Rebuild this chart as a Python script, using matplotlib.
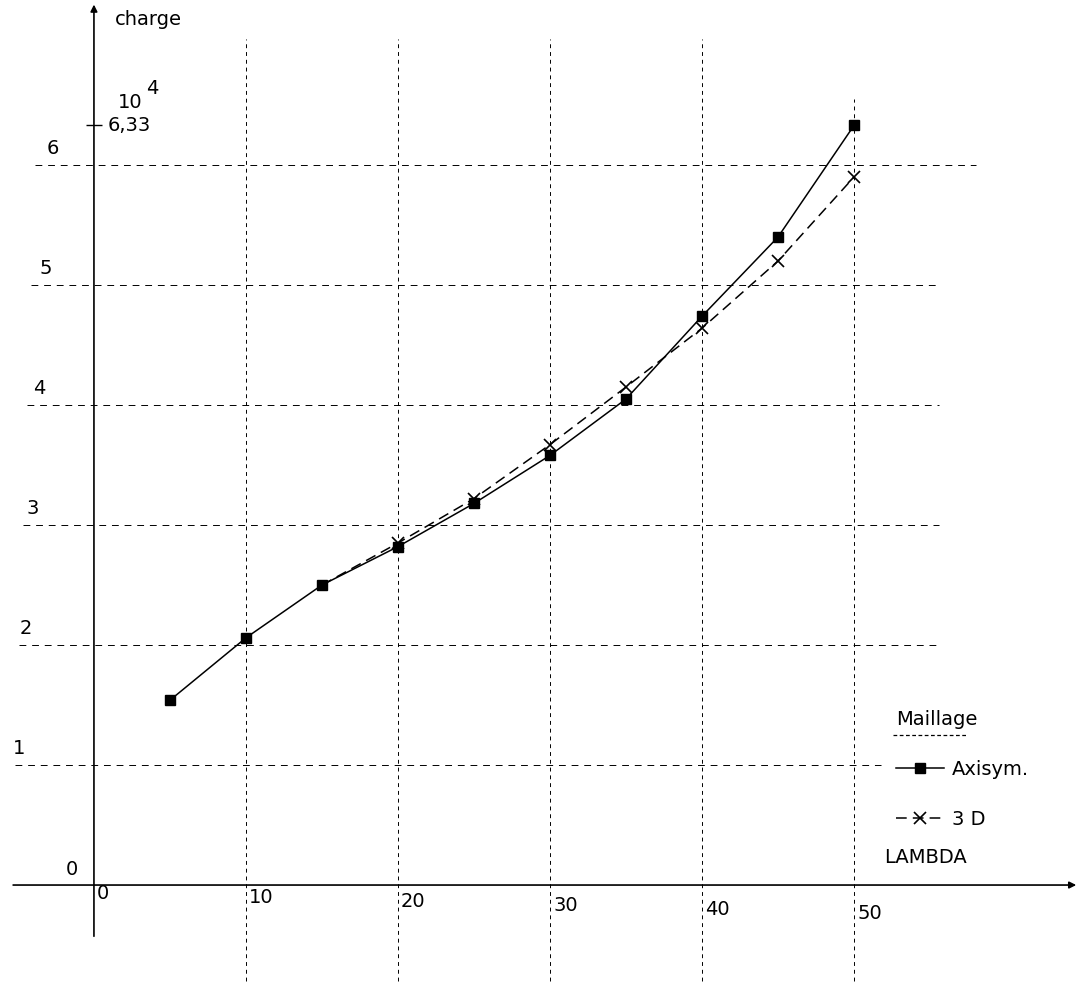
import numpy as np
import matplotlib.pyplot as plt

### DATA (charge in 10^4) ---------------------------------------------------
lam_axi = [5, 10, 15, 20, 25, 30, 35, 40, 45, 50]
charge_axi = [1.54, 2.06, 2.50, 2.82, 3.18, 3.58, 4.05, 4.74, 5.40, 6.33]
lam_3d = [15, 20, 25, 30, 35, 40, 45, 50]
charge_3d = [2.50, 2.85, 3.22, 3.67, 4.15, 4.64, 5.20, 5.90]
x_ticks = [0, 10, 20, 30, 40, 50]
x_labels = ['0', '10', '20', '30', '40', '50']
y_ticks = [1, 2, 3, 4, 5, 6]
y_labels = ['1', '2', '3', '4', '5', '6']
mark_val = 6.33
mark_label = '6,33'
series_names = ['Axisym.', '3 D']
legend_title = 'Maillage'

plt.rcParams['font.family'] = ['DejaVu Sans']
FS = 14

### FIGURE ------------------------
fig = plt.figure(figsize=(10.79, 9.82), dpi=100)
ax = fig.add_axes([0, 0, 1, 1])
ax.set_xlim(-6.18, 64.8)
ax.set_ylim(-0.808, 7.375)
ax.axis('off')

# grid (dashed, hand drawn look)
for v in x_ticks[1:]:
    top = 6.55 if v == 50 else 7.05
    ax.vlines(v, -0.8, top, colors='k', linestyles=(0, (4, 4)), lw=0.7)
for v in y_ticks:
    right = 58 if v == 6 else (51.8 if v == 1 else 55.6)
    left = -3.9 - 0.26 * (6 - v)
    ax.hlines(v, left, right, colors='k', linestyles=(0, (7, 6)), lw=0.7)

# axes with arrows
ax.annotate('', xy=(0, 7.36), xytext=(0, -0.45),
            arrowprops=dict(arrowstyle='-|>', lw=1.2, color='k', mutation_scale=10))
ax.annotate('', xy=(64.8, 0), xytext=(-5.5, 0),
            arrowprops=dict(arrowstyle='-|>', lw=1.2, color='k', mutation_scale=10))

# tick labels
for v, lab in zip(y_ticks, y_labels):
    ax.text(-2.7 - 0.45 * (6 - v), v + 0.14, lab, fontsize=FS, ha='center', va='center')
ax.text(-1.45, 0.13, '0', fontsize=FS, ha='center', va='center')
for v, lab in zip(x_ticks, x_labels):
    ax.text(v + 0.2, -0.07 - 0.0034 * v, lab, fontsize=FS, ha='left', va='center')

# extra mark at 6.33 and the 10^4 factor
ax.hlines(mark_val, -0.5, 0.5, colors='k', lw=1.0)
ax.text(0.9, mark_val, mark_label, fontsize=FS, ha='left', va='center')
ax.text(1.6, mark_val + 0.19, '10', fontsize=FS, ha='left', va='center')
ax.text(3.4, mark_val + 0.31, '4', fontsize=FS, ha='left', va='center')

ax.text(1.4, 7.21, 'charge', fontsize=FS, ha='left', va='center')
ax.text(54.7, 0.23, 'LAMBDA', fontsize=FS, ha='center', va='center')

# curves
l1, = ax.plot(lam_axi, charge_axi, color='k', lw=1.1, marker='s', markersize=7)
l2, = ax.plot(lam_3d, charge_3d, color='k', lw=1.1, linestyle=(0, (7, 4)),
              marker='x', markersize=8, markeredgewidth=1.2,
              markevery=list(range(1, len(lam_3d))))

leg = ax.legend([l1, l2], series_names, title=legend_title, loc='upper left',
                bbox_to_anchor=(886 / 1079, 1 - 700 / 982), frameon=False,
                fontsize=FS, title_fontsize=FS, handlelength=2.5, handletextpad=0.4,
                labelspacing=1.6, borderpad=0, alignment='left')
# dashed underline under the legend title
fig.add_artist(plt.Line2D([893 / 1079, 968 / 1079], [1 - 735 / 982] * 2,
                          color='k', lw=0.9, linestyle=(0, (3, 2))))

fig.savefig('out.png', dpi=100)
